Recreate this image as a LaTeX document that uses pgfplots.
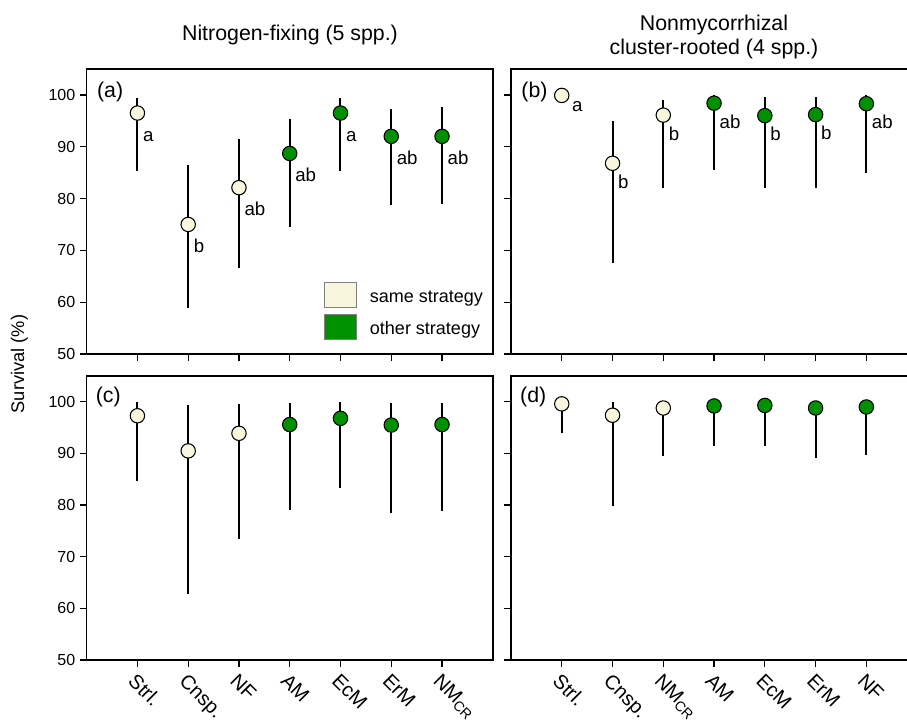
\documentclass[border=0pt]{standalone}
\usepackage{fontspec}
\setmainfont{Liberation Sans}
\usepackage{pgfplots}
\usepackage{pgfplotstable}
\pgfplotsset{compat=1.18}

\definecolor{cream}{RGB}{248,246,221}
\definecolor{grn}{RGB}{0,145,0}
\newcommand{\fsy}{\fontsize{12}{14}\selectfont}
\newcommand{\fsx}{\fontsize{15}{17}\selectfont}
\newcommand{\fsl}{\fontsize{14}{16}\selectfont}

% mean, lower and upper limit of each group; grp: s = same strategy, o = other
\pgfplotstableread{
x mean lo hi grp let
1 96.5 85.3 99.4 s a
2 75.0 58.9 86.5 s b
3 82.1 66.5 91.5 s ab
4 88.7 74.6 95.4 o ab
5 96.5 85.3 99.4 o a
6 92.0 78.7 97.3 o ab
7 92.0 78.9 97.6 o ab
}\tabA
\pgfplotstableread{
x mean lo hi grp let
1 99.9 99.9 100.0 s a
2 86.8 67.6 95.0 s b
3 96.1 82.0 99.1 s b
4 98.4 85.5 100.0 o ab
5 96.0 82.0 99.5 o b
6 96.2 82.0 99.5 o b
7 98.3 85.0 100.0 o ab
}\tabB
\pgfplotstableread{
x mean lo hi grp
1 97.3 84.7 100.0 s
2 90.5 62.7 99.3 s
3 93.9 73.5 99.6 s
4 95.6 79.0 99.8 o
5 96.8 83.4 100.0 o
6 95.5 78.4 99.8 o
7 95.6 78.9 99.8 o
}\tabC
\pgfplotstableread{
x mean lo hi grp
1 99.6 94.0 100.0 s
2 97.4 79.8 100.0 s
3 98.8 89.5 100.0 s
4 99.2 91.4 100.0 o
5 99.3 91.5 100.0 o
6 98.8 89.2 100.0 o
7 99.0 89.7 100.0 o
}\tabD

\pgfplotsset{
  panel/.style={scale only axis, width=304.6pt,
    xmin=0, xmax=8, ymin=50, ymax=105,
    xtick={1,...,7}, ytick={50,60,...,100},
    tick align=outside, xtick pos=left, ytick pos=left,
    major tick length=5pt,
    tick style={black, line width=0.9pt},
    axis line style={line width=1.1pt},
    yticklabel style={font=\fsy},
    /pgf/number format/assume math mode=true,
    clip=false},
  botlabels/.style={xticklabels={Strl.,Cnsp.,NF,AM,EcM,ErM,NM\textsubscript{CR}},
    xticklabel style={font=\fsx, yshift=-4pt, rotate=-45, anchor=north west, inner sep=0pt}},
  boxlegend/.style={legend image code/.code={\draw[##1] (0pt,-7.7pt) rectangle (24pt,11pt);}},
  letters/.style={forget plot, only marks, mark=none, nodes near coords,
    point meta=explicit symbolic,
    every node near coord/.style={anchor=base west, inner sep=0pt, font=\fsl, #1}},
}
\newcommand{\whisk}[1]{\addplot[forget plot, only marks, mark=none,
    error bars/.cd, y dir=both, y explicit, error mark=none,
    error bar style={line width=1.5pt, black}]
  table[x=x, y=mean, y error plus expr=\thisrow{hi}-\thisrow{mean},
        y error minus expr=\thisrow{mean}-\thisrow{lo}] {#1};}
\newcommand{\pts}[1]{\addplot[forget plot, scatter, only marks,
    point meta=explicit symbolic, mark size=5.4pt,
    scatter/classes={s={mark=*, fill=cream, draw=black, line width=0.8pt},
                     o={mark=*, fill=grn, draw=black, line width=0.8pt}}]
  table[x=x, y=mean, meta=grp] {#1};}

\begin{document}
\begin{tikzpicture}
% (a)
\begin{axis}[panel, height=213.75pt, at={(65pt,276.75pt)}, anchor=south west,
    xticklabels={},
    legend style={draw=none, fill=none, at={(rel axis cs:0.584,0.2526)}, anchor=north west,
      inner sep=0pt, row sep=5pt, column sep=8pt, font=\fontsize{13.5}{15}\selectfont},
    legend cell align=left]
\whisk{\tabA}
\pts{\tabA}
\addplot[letters={xshift=4pt, yshift=-21pt}] table[x=x, y=mean, meta=let] {\tabA};
\node[anchor=west, inner sep=0pt, font=\fontsize{16}{18}\selectfont] at (rel axis cs:0.025,0.919) {(a)};
\addlegendimage{boxlegend, fill=cream, draw=gray}
\addlegendentry{same strategy}
\addlegendimage{boxlegend, fill=grn, draw=gray}
\addlegendentry{other strategy}
\end{axis}
% (b)
\begin{axis}[panel, height=213.75pt, at={(383.25pt,276.75pt)}, anchor=south west,
    xticklabels={}, yticklabels={}]
\whisk{\tabB}
\pts{\tabB}
\addplot[letters={xshift=4pt, yshift=-18.75pt}, skip coords between index={0}{1}]
  table[x=x, y=mean, meta=let] {\tabB};
\addplot[letters={xshift=7.5pt, yshift=-11.7pt}, skip coords between index={1}{7}]
  table[x=x, y=mean, meta=let] {\tabB};
\node[anchor=west, inner sep=0pt, font=\fontsize{16}{18}\selectfont] at (rel axis cs:0.025,0.919) {(b)};
\end{axis}
% (c)
\begin{axis}[panel, height=213pt, at={(65pt,47.25pt)}, anchor=south west, botlabels]
\whisk{\tabC}
\pts{\tabC}
\node[anchor=west, inner sep=0pt, font=\fontsize{16}{18}\selectfont] at (rel axis cs:0.022,0.927) {(c)};
\end{axis}
% (d)
\begin{axis}[panel, height=213pt, at={(383.25pt,47.25pt)}, anchor=south west, botlabels,
    xticklabels={Strl.,Cnsp.,NM\textsubscript{CR},AM,EcM,ErM,NF}, yticklabels={}]
\whisk{\tabD}
\pts{\tabD}
\node[anchor=west, inner sep=0pt, font=\fontsize{16}{18}\selectfont] at (rel axis cs:0.022,0.927) {(d)};
\end{axis}
% titles and axis label
\node[font=\fontsize{16}{18}\selectfont] at (217.5pt,516pt) {Nitrogen-fixing (5 spp.)};
\node[font=\fontsize{16}{17.5}\selectfont, align=center] at (535.5pt,514.5pt)
  {Nonmycorrhizal\\cluster-rooted (4 spp.)};
\node[font=\fontsize{13.7}{16}\selectfont, rotate=90] at (14.5pt,269.25pt) {Survival (\%)};
\pgfresetboundingbox
\useasboundingbox (0,0) rectangle (680.25pt,542.25pt);
\end{tikzpicture}
\end{document}
